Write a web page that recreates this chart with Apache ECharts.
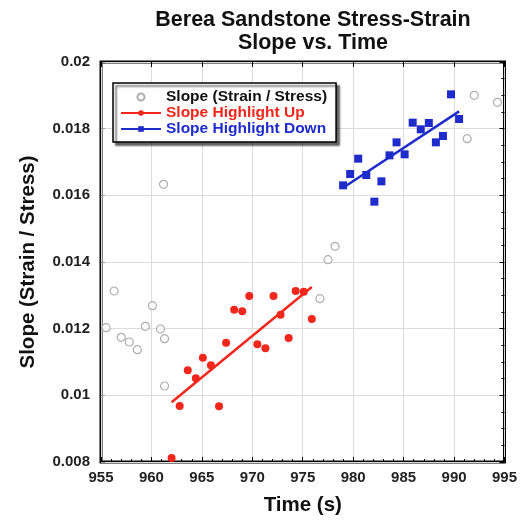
<!DOCTYPE html>
<html lang="en">
  <head>
    <meta charset="UTF-8" />
    <title>Berea Sandstone Stress-Strain Slope vs. Time</title>
    <script src="https://cdn.jsdelivr.net/npm/echarts@6/dist/echarts.min.js"></script>
    <style>
      html, body { margin: 0; padding: 0; background: #fff; }
    </style>
  </head>
  <body>
    <div id="main" style="width: 520px; height: 521px"></div>
    <script type="text/javascript">
      // all slope points (hollow gray)
      const slopeTime = [955.5, 956.3, 957.0, 957.8, 958.6, 959.4, 960.1, 960.9, 961.3, 961.3, 961.2, 976.7, 977.5, 978.2, 991.3, 992.0, 994.3];
      const slopeVal = [0.01203, 0.01313, 0.01174, 0.0116, 0.01137, 0.01207, 0.01269, 0.01199, 0.0117, 0.01028, 0.01633, 0.0129, 0.01407, 0.01447, 0.0177, 0.019, 0.01879];

      // highlighted segment going up (red)
      const upTime = [962.0, 962.8, 963.6, 964.4, 965.1, 965.9, 966.7, 967.4, 968.2, 969.0, 969.7, 970.5, 971.3, 972.1, 972.8, 973.6, 974.3, 975.1, 975.9];
      const upVal = [0.00812, 0.00968, 0.01075, 0.01051, 0.01113, 0.0109, 0.00967, 0.01158, 0.01257, 0.01252, 0.01298, 0.01153, 0.01141, 0.01298, 0.01242, 0.01172, 0.01313, 0.01311, 0.01229];

      // highlighted segment (blue)
      const downTime = [979.0, 979.7, 980.5, 981.3, 982.1, 982.8, 983.6, 984.3, 985.1, 985.9, 986.7, 987.5, 988.2, 988.9, 989.7, 990.5];
      const downVal = [0.0163, 0.01664, 0.0171, 0.01661, 0.01581, 0.01642, 0.0172, 0.01759, 0.01723, 0.01818, 0.01798, 0.01817, 0.01759, 0.01778, 0.01903, 0.01829];

      const xTicks = [955, 995, 5];
      const yTicks = [0.008, 0.02, 0.002];

      const RED = "#f2271c";
      const BLUE = "#1f2ccc";
      const GRAY = "#9a9a9a";
      const FONT = "Liberation Sans";

      function pairs(xs, ys) {
        return xs.map((x, i) => [x, ys[i]]);
      }

      // least squares fit, drawn from first to last point
      function fit(xs, ys) {
        const n = xs.length;
        const mx = xs.reduce((a, b) => a + b, 0) / n;
        const my = ys.reduce((a, b) => a + b, 0) / n;
        let sxy = 0, sxx = 0;
        for (let i = 0; i < n; i++) {
          sxy += (xs[i] - mx) * (ys[i] - my);
          sxx += (xs[i] - mx) * (xs[i] - mx);
        }
        const k = sxy / sxx;
        const x0 = Math.min(...xs), x1 = Math.max(...xs);
        return [[x0, my + k * (x0 - mx)], [x1, my + k * (x1 - mx)]];
      }

      var myChart = echarts.init(document.getElementById("main"));

      const sideX = {
        type: "value", min: xTicks[0], max: xTicks[1], interval: xTicks[2],
        axisLine: { show: false }, splitLine: { show: false }, axisLabel: { show: false }
      };
      const sideY = {
        type: "value", min: yTicks[0], max: yTicks[1], interval: yTicks[2],
        axisLine: { show: false }, splitLine: { show: false }, axisLabel: { show: false }
      };

      var option = {
        backgroundColor: "#fff",
        textStyle: { fontFamily: FONT },
        title: {
          text: "Berea Sandstone Stress-Strain\nSlope vs. Time",
          left: 308,
          textAlign: "center",
          top: 4,
          textStyle: { fontFamily: FONT, fontWeight: "bold", fontSize: 21.5, lineHeight: 23, color: "#111" }
        },
        legend: {
          orient: "vertical",
          left: 113,
          top: 83,
          padding: [6, 9, 5, 7],
          itemGap: 0,
          itemWidth: 40,
          itemHeight: 7,
          backgroundColor: "#fff",
          borderColor: "#000",
          borderWidth: 1.5,
          borderRadius: 0,
          shadowColor: "rgba(0,0,0,0.6)",
          shadowBlur: 2,
          shadowOffsetX: 3,
          shadowOffsetY: 3,
          textStyle: { fontFamily: FONT, fontWeight: "bold", fontSize: 15.5, lineHeight: 14 },
          data: [
            { name: "Slope (Strain / Stress)", textStyle: { color: "#111" } },
            { name: "Slope Highlight Up", textStyle: { color: RED }, lineStyle: { width: 2, color: RED, opacity: 1 } },
            { name: "Slope Highlight Down", textStyle: { color: BLUE }, lineStyle: { width: 2, color: BLUE, opacity: 1 } }
          ]
        },
        grid: {
          left: 101,
          right: 12,
          top: 62,
          bottom: 56,
          show: true,
          borderColor: "#000",
          borderWidth: 3,
          backgroundColor: "#fff"
        },
        xAxis: [
          {
            type: "value",
            min: xTicks[0], max: xTicks[1], interval: xTicks[2],
            name: "Time (s)",
            nameLocation: "middle",
            nameGap: 33,
            nameTextStyle: { fontFamily: FONT, fontWeight: "bold", fontSize: 20.5, color: "#111" },
            axisLine: { show: false },
            axisTick: { inside: true, length: 5, lineStyle: { color: "#000" } },
            minorTick: { show: true, splitNumber: 5, length: 3, lineStyle: { color: "#000" } },
            splitLine: { show: true, lineStyle: { color: "#dcdcdc", width: 1 } },
            axisLabel: { fontFamily: FONT, fontWeight: "bold", fontSize: 15, color: "#222", margin: 8 }
          },
          Object.assign({ position: "top", axisTick: { inside: true, length: 5, lineStyle: { color: "#000" } } }, sideX)
        ],
        yAxis: [
          {
            type: "value",
            min: yTicks[0], max: yTicks[1], interval: yTicks[2],
            name: "Slope (Strain / Stress)",
            nameLocation: "middle",
            nameGap: 62,
            nameTextStyle: { fontFamily: FONT, fontWeight: "bold", fontSize: 20.5, color: "#111" },
            axisLine: { show: false },
            axisTick: { inside: true, length: 4, lineStyle: { color: "#999" } },
            splitLine: { show: true, lineStyle: { color: "#dcdcdc", width: 1 } },
            axisLabel: { fontFamily: FONT, fontWeight: "bold", fontSize: 15, color: "#222", margin: 11 }
          },
          Object.assign({
            position: "right",
            axisTick: { inside: true, length: 5, lineStyle: { color: "#000" } },
            minorTick: { show: true, splitNumber: 4, length: 3, lineStyle: { color: "#000" } }
          }, sideY)
        ],
        series: [
          {
            name: "Slope (Strain / Stress)",
            type: "scatter",
            symbol: "circle",
            symbolSize: 8,
            itemStyle: { color: "#fff", borderColor: GRAY, borderWidth: 1.2 },
            data: pairs(slopeTime, slopeVal),
            z: 2
          },
          {
            name: "Slope Highlight Up",
            type: "line",
            symbol: "circle",
            symbolSize: 8,
            itemStyle: { color: RED },
            lineStyle: { width: 0, opacity: 0 },
            data: pairs(upTime, upVal),
            z: 3
          },
          {
            type: "line",
            showSymbol: false,
            silent: true,
            lineStyle: { width: 2.5, color: RED },
            data: fit(upTime, upVal),
            z: 3
          },
          {
            name: "Slope Highlight Down",
            type: "line",
            symbol: "rect",
            symbolSize: 8,
            itemStyle: { color: BLUE },
            lineStyle: { width: 0, opacity: 0 },
            data: pairs(downTime, downVal),
            z: 3
          },
          {
            type: "line",
            showSymbol: false,
            silent: true,
            lineStyle: { width: 2.5, color: BLUE },
            data: fit(downTime, downVal),
            z: 3
          }
        ]
      };

      myChart.setOption(option);
    </script>
  </body>
</html>
